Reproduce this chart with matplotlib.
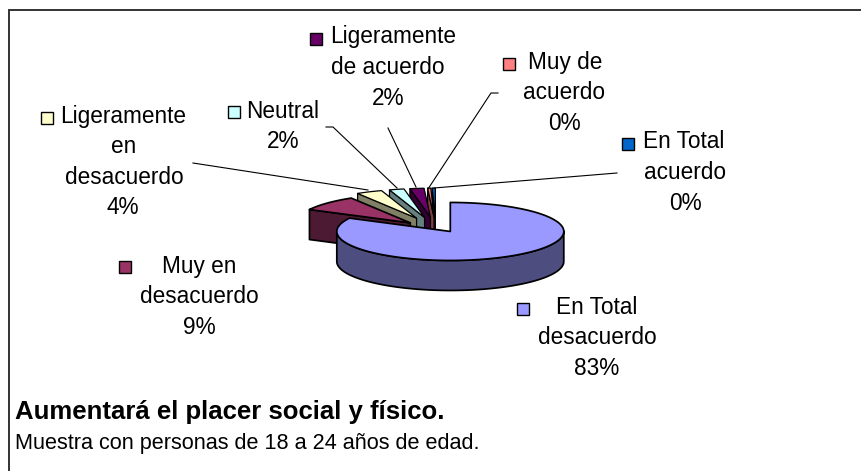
import numpy as np
import matplotlib
matplotlib.use("Agg")
import matplotlib.pyplot as plt
from matplotlib.patches import Rectangle

plt.rcParams['font.family'] = ['Liberation Sans', 'DejaVu Sans']

categories = ["En Total desacuerdo", "Muy en desacuerdo", "Ligeramente en desacuerdo",
              "Neutral", "Ligeramente de acuerdo", "Muy de acuerdo", "En Total acuerdo"]
values = [82.6, 8.7, 3.7, 2.1, 2.0, 0.45, 0.45]
percent_labels = ["83%", "9%", "4%", "2%", "2%", "0%", "0%"]
top_colors = ["#9999FF", "#993366", "#FFFFCC", "#CCFFFF", "#660066", "#FF8080", "#0066CC"]
explode = [0.20, 0.31, 0.41, 0.41, 0.41, 0.41, 0.41]

W, H = 862, 471
fig = plt.figure(figsize=(W / 100, H / 100), dpi=100)
ax = fig.add_axes([0, 0, 1, 1])
ax.set_xlim(0, W); ax.set_ylim(H, 0); ax.axis('off')

ax.plot([9, 9, W], [H, 10, 10], color='#333333', lw=1.4, solid_joinstyle='miter', zorder=1)

CX, CY, RX, RY, DEPTH = 436, 229, 113.5, 29, 30
MAIN_SHIFT = (2.5, -2.5)

def shade(c):
    r = matplotlib.colors.to_rgb(c)
    return tuple(v * 0.5 for v in r)

shares = np.array(values) / sum(values) * 360
starts = np.concatenate([[0], np.cumsum(shares)[:-1]])
slices = []
for i, (s, w) in enumerate(zip(starts, shares)):
    t = np.radians(np.linspace(s, s + w, max(int(w), 2) + 1))
    mid = np.radians(s + w / 2)
    cx = CX + explode[i] * RX * np.sin(mid) + (MAIN_SHIFT[0] if i == 0 else 0)
    cy = CY - explode[i] * RY * np.cos(mid) + (MAIN_SHIFT[1] if i == 0 else 0)
    x = cx + RX * np.sin(t)
    y = cy - RY * np.cos(t)
    slices.append((i, cx, cy, x, y, t))

def draw(sl, z):
    i, cx, cy, x, y, t = sl
    dark = shade(top_colors[i])
    lw = 1.25 if i < 2 else 0.9
    kw = dict(edgecolor='black', linewidth=lw, joinstyle='round', zorder=z)
    if i == 0:
        front = np.cos(t) <= 0.02
        ax.fill(np.r_[x[front], x[front][::-1]], np.r_[y[front], y[front][::-1] + DEPTH],
                facecolor=dark, **kw)
    else:
        ax.fill([cx, x[0], x[0], cx], [cy, y[0], y[0] + DEPTH, cy + DEPTH], facecolor=dark, **kw)
    ax.fill(np.r_[cx, x], np.r_[cy, y], facecolor=top_colors[i], **kw)

order = [6, 5, 4, 3, 2, 1, 0]
for z, i in enumerate(order):
    draw(slices[i], 3 + z)

leaders = [
    ([193, 368], [163, 190]),
    ([326, 333, 397], [127, 127, 188]),
    ([388, 416], [128, 187]),
    ([498, 491, 428], [93, 93, 189]),
    ([617, 434], [173, 188]),
]
for lx, ly in leaders:
    ax.plot(lx, ly, color='black', lw=0.8, zorder=20)

FS = 16.3
def label(lines, xc, ytop, key=None, color=None):
    step = 30.6
    for n, line in enumerate(lines):
        ax.text(xc[n], ytop + n * step, line, fontsize=FS,
                ha='center', va='center', color='black', zorder=30)
    if key is not None:
        ax.add_patch(Rectangle((key[0], key[1]), 12, 12, fc=color, ec='black', lw=1.0, zorder=30))

label(["Ligeramente", "en", "desacuerdo", "4%"], [123, 124, 124, 123], 116, (41, 112), top_colors[2])
label(["Neutral", "2%"], [283, 283], 111, (228, 106), top_colors[3])
label(["Ligeramente", "de acuerdo", "2%"], [393, 388, 388], 37, (310, 33), top_colors[4])
label(["Muy de", "acuerdo", "0%"], [565, 564, 564], 62, (503, 58), top_colors[5])
label(["En Total", "acuerdo", "0%"], [684, 685, 685], 142, (622, 138), top_colors[6])
label(["Muy en", "desacuerdo", "9%"], [199, 199, 199], 266, (119, 261), top_colors[1])
label(["En Total", "desacuerdo", "83%"], [597, 597, 597], 307, (517, 303), top_colors[0])

ax.text(15, 412, "Aumentará el placer social y físico.", fontsize=18.5, fontweight='bold', va='center', ha='left')
ax.text(15, 443, "Muestra con personas de 18 a 24 años de edad.", fontsize=15.6, va='center', ha='left')

fig.savefig("out.png", dpi=100)
